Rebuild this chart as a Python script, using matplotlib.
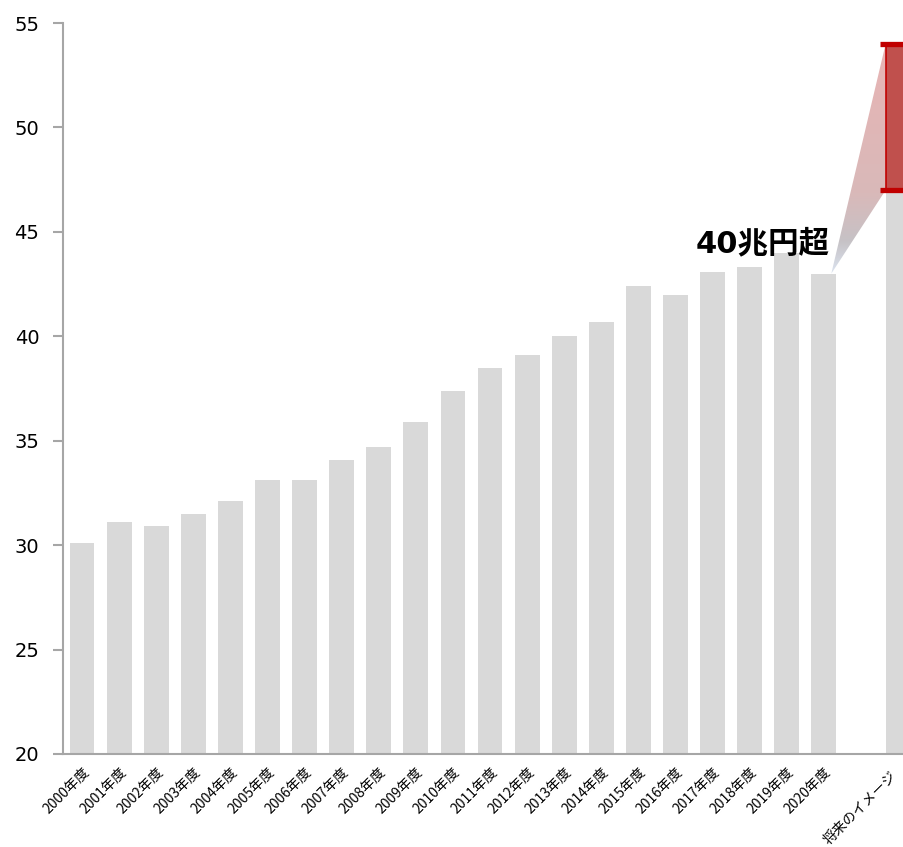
import matplotlib.pyplot as plt
import matplotlib.transforms as mtransforms
from matplotlib.colors import LinearSegmentedColormap
from matplotlib.patches import Polygon
import numpy as np

plt.rcParams['font.family'] = ['DejaVu Sans', 'Noto Sans CJK JP']

# 年度別の値 (兆円)
years = [str(y) + "年度" for y in range(2000, 2021)]
values = [30.1, 31.1, 30.9, 31.5, 32.1, 33.1, 33.1, 34.1, 34.7, 35.9, 37.4,
          38.5, 39.1, 40.0, 40.7, 42.4, 42.0, 43.1, 43.3, 44.0, 43.0]
future_label = "将来のイメージ"
future_base = 47.0   # gray part of the future bar
future_top = 54.0    # top of the red range
note = "40兆円超"

yticks = [20, 25, 30, 35, 40, 45, 50, 55]

fig = plt.figure(figsize=(9.04, 8.47), dpi=100)
ax = fig.add_axes([0.0697, 0.1098, 0.9303, 0.863])

wid = 0.67
xs = list(range(len(values)))
fx = len(values) + 1  # one empty slot before the future bar

ax.bar(xs, values, width=wid, color='#D9D9D9', zorder=2)
ax.bar(fx, future_base, width=wid, color='#D9D9D9', zorder=2)
ax.bar(fx, future_top - future_base, bottom=future_base, width=wid,
       color='#C0504D', edgecolor='#C00000', linewidth=1.2, zorder=3)
ax.hlines([future_base, future_top], fx - 0.5, fx + 0.5,
          colors='#C00000', linewidth=3.8, zorder=4)

# gradient wedge from the 2020 bar to the red range
tip = (xs[-1] + 0.2, values[-1])
poly = Polygon([tip, (fx - wid / 2, future_top), (fx - wid / 2, future_base)],
               closed=True, facecolor='none', edgecolor='none')
ax.add_patch(poly)
cmap = LinearSegmentedColormap.from_list(
    'wedge', [(0, '#DCE4F0'), (0.14, '#C6C2C6'), (0.35, '#D9B9B9'), (1, '#E8B4B4')])
grad = np.linspace(0, 1, 256).reshape(-1, 1)
im = ax.imshow(grad, cmap=cmap, origin='lower', aspect='auto',
               extent=[tip[0], fx - wid / 2, values[-1], future_top], zorder=1.5)
im.set_clip_path(poly)

ax.text(18.35, 44.45, note, fontsize=22, fontweight='bold', color='black',
        ha='center', va='center', zorder=5)

ax.set_xlim(-0.512, 22.16)
ax.set_ylim(20, 55)
ax.set_yticks(yticks)
ax.set_yticklabels([str(t) for t in yticks], fontsize=14)
ax.set_xticks(xs + [fx])
ax.set_xticklabels(years + [future_label], fontsize=10, rotation=45,
                   ha='right', rotation_mode='anchor',
                   family=['Noto Sans CJK JP', 'DejaVu Sans'])
ax.tick_params(axis='x', length=0, pad=8)
ax.tick_params(axis='y', length=7, width=1.5, color='#A6A6A6', pad=10)

# keep the last label inside the picture
last = ax.get_xticklabels()[-1]
last.set_transform(last.get_transform() +
                   mtransforms.ScaledTranslation(-6 / 72, -3 / 72, fig.dpi_scale_trans))

for s in ['top', 'right']:
    ax.spines[s].set_visible(False)
for s in ['left', 'bottom']:
    ax.spines[s].set_color('#A6A6A6')
    ax.spines[s].set_linewidth(1.5)
ax.spines['bottom'].set_zorder(6)

plt.savefig('out.png', dpi=100)
